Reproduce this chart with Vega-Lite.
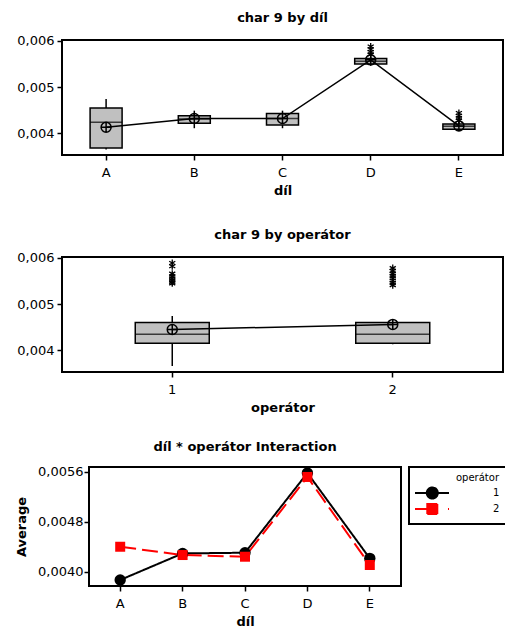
{
  "$schema": "https://vega.github.io/schema/vega-lite/v6.json",
  "padding": {"left": 14, "top": 10, "right": 0, "bottom": 0},
  "spacing": 24,
  "resolve": {
    "scale": {"color": "independent"},
    "legend": {"color": "independent"}
  },
  "config": {
    "font": "DejaVu Sans",
    "view": {"stroke": "black", "strokeWidth": 2},
    "axis": {"grid": false, "domain": false, "tickColor": "black", "tickSize": 5, "tickWidth": 1.5, "labelColor": "black", "labelFontSize": 13, "labelFont": "DejaVu Sans", "titleFontSize": 13, "titleFontWeight": "bold", "titleColor": "black", "labelPadding": 3, "labelAngle": 0},
    "axisX": {"labelPadding": 6, "titlePadding": 5},
    "title": {"fontSize": 13, "fontWeight": "bold", "color": "black", "offset": 12}
  },
  "datasets": {
    "dil": [
      {"dil": "A", "lo": 0.00365, "q1": 0.00368, "med": 0.00424, "q3": 0.00455, "hi": 0.00474, "mean": 0.00413},
      {"dil": "B", "lo": 0.00411, "q1": 0.00422, "med": 0.00431, "q3": 0.00438, "hi": 0.00449, "mean": 0.00432},
      {"dil": "C", "lo": 0.00411, "q1": 0.00418, "med": 0.00432, "q3": 0.00443, "hi": 0.00449, "mean": 0.00432},
      {"dil": "D", "lo": 0.00546, "q1": 0.0055, "med": 0.00556, "q3": 0.00562, "hi": 0.00566, "mean": 0.00559},
      {"dil": "E", "lo": 0.00408, "q1": 0.00409, "med": 0.00415, "q3": 0.0042, "hi": 0.00424, "mean": 0.00416}
    ],
    "dilOut": [
      {"dil": "D", "v": 0.00588}, {"dil": "D", "v": 0.00582}, {"dil": "D", "v": 0.00576}, {"dil": "D", "v": 0.00571},
      {"dil": "E", "v": 0.00444}, {"dil": "E", "v": 0.00438}, {"dil": "E", "v": 0.00433}, {"dil": "E", "v": 0.00428}
    ],
    "op": [
      {"op": "1", "lo": 0.00366, "q1": 0.00415, "med": 0.00435, "q3": 0.0046, "hi": 0.00474, "mean": 0.00445},
      {"op": "2", "lo": 0.00413, "q1": 0.00415, "med": 0.00435, "q3": 0.0046, "hi": 0.0046, "mean": 0.00456}
    ],
    "opOut": [
      {"op": "1", "v": 0.00589}, {"op": "1", "v": 0.00582}, {"op": "1", "v": 0.00566}, {"op": "1", "v": 0.0056}, {"op": "1", "v": 0.00556}, {"op": "1", "v": 0.00552}, {"op": "1", "v": 0.00548}, {"op": "1", "v": 0.00545},
      {"op": "2", "v": 0.00578}, {"op": "2", "v": 0.00572}, {"op": "2", "v": 0.00566}, {"op": "2", "v": 0.00561}, {"op": "2", "v": 0.00556}, {"op": "2", "v": 0.00551}, {"op": "2", "v": 0.00546}, {"op": "2", "v": 0.00541}
    ],
    "inter": [
      {"dil": "A", "op": "1", "avg": 0.003867}, {"dil": "B", "op": "1", "avg": 0.004293}, {"dil": "C", "op": "1", "avg": 0.004304}, {"dil": "D", "op": "1", "avg": 0.005584}, {"dil": "E", "op": "1", "avg": 0.004213},
      {"dil": "A", "op": "2", "avg": 0.0044}, {"dil": "B", "op": "2", "avg": 0.004267}, {"dil": "C", "op": "2", "avg": 0.00424}, {"dil": "D", "op": "2", "avg": 0.00552}, {"dil": "E", "op": "2", "avg": 0.004107}
    ],
    "spacer": [{"s": 0}]
  },
  "vconcat": [
    {
      "spacing": 29,
      "vconcat": [
        {
          "title": {"text": "char 9 by díl", "offset": 10},
          "width": 441, "height": 115,
          "data": {"name": "dil"},
          "encoding": {
            "x": {"field": "dil", "type": "nominal", "title": "díl", "scale": {"type": "band", "paddingInner": 0, "paddingOuter": 0}}
          },
          "layer": [
            {"mark": {"type": "rule", "color": "black", "strokeWidth": 1.5},
             "encoding": {"y": {"field": "lo", "type": "quantitative", "scale": {"domain": [0.00353, 0.00602], "zero": false, "nice": false}, "axis": {"values": [0.004, 0.005, 0.006], "labelExpr": "replace(format(datum.value, '.3f'), '.', ',')", "title": null}}, "y2": {"field": "hi"}}},
            {"mark": {"type": "bar", "width": 32, "fill": "#c0c0c0", "stroke": "black", "strokeWidth": 1.5},
             "encoding": {"y": {"field": "q1", "type": "quantitative"}, "y2": {"field": "q3"}}},
            {"mark": {"type": "tick", "size": 32, "color": "black", "thickness": 1.5, "orient": "horizontal"},
             "encoding": {"y": {"field": "med", "type": "quantitative"}}},
            {"mark": {"type": "line", "color": "black", "strokeWidth": 1.5},
             "encoding": {"y": {"field": "mean", "type": "quantitative"}}},
            {"mark": {"type": "point", "shape": "M1,0A1,1 0 1,1 -1,0A1,1 0 1,1 1,0ZM-1,0H1M0,-1V1", "size": 100, "filled": false, "stroke": "black", "strokeWidth": 1.5, "opacity": 1},
             "encoding": {"y": {"field": "mean", "type": "quantitative"}}},
            {"data": {"name": "dilOut"},
             "mark": {"type": "point", "shape": "M0,-1V1M-0.87,-0.5L0.87,0.5M-0.87,0.5L0.87,-0.5", "size": 49, "filled": false, "stroke": "black", "strokeWidth": 1.3, "opacity": 1},
             "encoding": {"y": {"field": "v", "type": "quantitative"}}}
          ]
        },
        {
          "title": {"text": "char 9 by operátor", "offset": 10},
          "width": 441, "height": 115,
          "data": {"name": "op"},
          "encoding": {
            "x": {"field": "op", "type": "nominal", "title": "operátor", "scale": {"type": "band", "paddingInner": 0, "paddingOuter": 0}}
          },
          "layer": [
            {"mark": {"type": "rule", "color": "black", "strokeWidth": 1.5},
             "encoding": {"y": {"field": "lo", "type": "quantitative", "scale": {"domain": [0.00353, 0.00602], "zero": false, "nice": false}, "axis": {"values": [0.004, 0.005, 0.006], "labelExpr": "replace(format(datum.value, '.3f'), '.', ',')", "title": null}}, "y2": {"field": "hi"}}},
            {"mark": {"type": "bar", "width": 74, "fill": "#c0c0c0", "stroke": "black", "strokeWidth": 1.5},
             "encoding": {"y": {"field": "q1", "type": "quantitative"}, "y2": {"field": "q3"}}},
            {"mark": {"type": "tick", "size": 74, "color": "black", "thickness": 1.5, "orient": "horizontal"},
             "encoding": {"y": {"field": "med", "type": "quantitative"}}},
            {"mark": {"type": "line", "color": "black", "strokeWidth": 1.5},
             "encoding": {"y": {"field": "mean", "type": "quantitative"}}},
            {"mark": {"type": "point", "shape": "M1,0A1,1 0 1,1 -1,0A1,1 0 1,1 1,0ZM-1,0H1M0,-1V1", "size": 100, "filled": false, "stroke": "black", "strokeWidth": 1.5, "opacity": 1},
             "encoding": {"y": {"field": "mean", "type": "quantitative"}}},
            {"data": {"name": "opOut"},
             "mark": {"type": "point", "shape": "M0,-1V1M-0.87,-0.5L0.87,0.5M-0.87,0.5L0.87,-0.5", "size": 49, "filled": false, "stroke": "black", "strokeWidth": 1.3, "opacity": 1},
             "encoding": {"y": {"field": "v", "type": "quantitative"}}}
          ]
        }
      ]
    },
    {
      "spacing": 26,
      "bounds": "flush",
      "resolve": {
        "scale": {"color": "independent"},
        "legend": {"color": "independent"}
      },
      "hconcat": [
        {
          "width": 1, "height": 1,
          "view": {"stroke": null},
          "data": {"name": "spacer"},
          "mark": {"type": "point", "opacity": 0},
          "encoding": {}
        },
        {
          "title": "díl * operátor Interaction",
          "width": 312, "height": 119,
          "data": {"name": "inter"},
          "encoding": {
            "x": {"field": "dil", "type": "nominal", "title": "díl", "scale": {"type": "band", "paddingInner": 0, "paddingOuter": 0}},
            "y": {"field": "avg", "type": "quantitative", "scale": {"domain": [0.00377, 0.00568], "zero": false, "nice": false}, "axis": {"values": [0.004, 0.0048, 0.0056], "labelExpr": "replace(format(datum.value, '.4f'), '.', ',')", "title": "Average", "titlePadding": 9, "labelPadding": 1}},
            "color": {"field": "op", "type": "nominal", "scale": {"domain": ["1", "2"], "range": ["black", "red"]},
              "legend": {"title": "operátor", "orient": "right", "offset": 8, "padding": 6, "strokeColor": "black", "fillColor": "white", "titleFontSize": 10, "titleFontWeight": "normal", "titleColor": "black", "titleAnchor": "end", "titlePadding": 4, "labelFontSize": 10, "labelColor": "black", "labelOffset": 66, "symbolSize": 100, "rowPadding": -10,
                "encoding": {
                  "symbols": {
                    "shape": {"value": {"signal": "datum.value === '1' ? 'M-1.2,0H5.6M3.36,0A1.1,1.1 0 1,1 1.16,0A1.1,1.1 0 1,1 3.36,0Z' : 'M-1.2,0H2.26M1.26,-1H3.26V1H1.26ZM5.4,0H5.6'"}},
                    "fill": {"value": {"signal": "datum.value === '1' ? 'black' : 'red'"}},
                    "stroke": {"value": {"signal": "datum.value === '1' ? 'black' : 'red'"}},
                    "strokeWidth": {"value": 2},
                    "strokeDash": {"value": [1, 0]},
                    "opacity": {"value": 1},
                    "fillOpacity": {"value": 1},
                    "size": {"value": 100}
                  },
                  "legend": {"strokeWidth": {"value": 2}}
                }
              }}
          },
          "layer": [
            {"mark": {"type": "line", "strokeWidth": 2},
             "encoding": {"strokeDash": {"condition": {"test": "datum.op === '2'", "value": [16, 6]}, "value": [1, 0]}}},
            {"mark": {"type": "point", "filled": true, "opacity": 1},
             "encoding": {
               "shape": {"condition": {"test": "datum.op === '2'", "value": "square"}, "value": "circle"},
               "size": {"condition": {"test": "datum.op === '2'", "value": 100}, "value": 130}
             }}
          ]
        }
      ]
    }
  ]
}
